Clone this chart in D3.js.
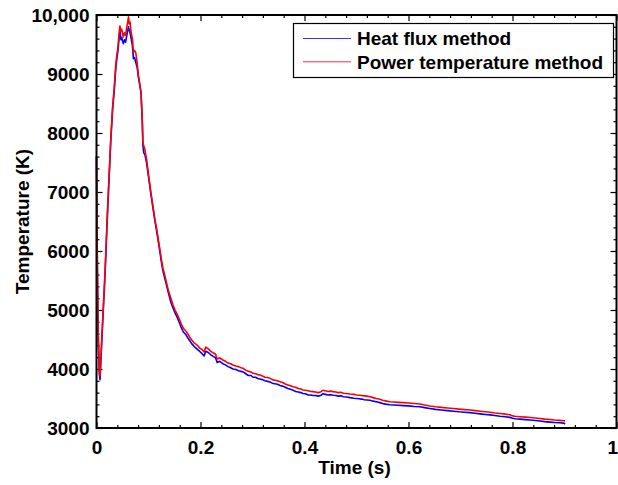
<!DOCTYPE html>
<html><head><meta charset="utf-8">
<script src="https://cdn.jsdelivr.net/npm/d3@7"></script>
<style>
html,body{margin:0;padding:0;background:#fff;}
svg{display:block;font-family:"Liberation Sans",Arial,Helvetica,sans-serif;}
</style></head>
<body><svg id="c" width="618" height="485"></svg>
<script>
const time = [0,0.001,0.003,0.0055,0.0068,0.009,0.0125,0.0163,0.021,0.0273,0.031,0.034,0.037,0.039,0.041,0.043,0.045,0.047,0.0485,0.0515,0.054,0.056,0.058,0.060,0.0615,0.063,0.0645,0.0665,0.069,0.071,0.073,0.0755,0.078,0.0805,0.083,0.0856,0.088,0.0893,0.091,0.093,0.0965,0.100,0.104,0.108,0.1125,0.116,0.119,0.122,0.125,0.128,0.132,0.138,0.143,0.147,0.151,0.155,0.160,0.163,0.167,0.172,0.176,0.180,0.183,0.188,0.193,0.199,0.203,0.207,0.210,0.215,0.220,0.225,0.229,0.232,0.237,0.243,0.248,0.253,0.258,0.2625,0.268,0.273,0.278,0.282,0.287,0.292,0.297,0.301,0.306,0.310,0.3144,0.319,0.324,0.329,0.3337,0.338,0.343,0.348,0.353,0.358,0.363,0.368,0.373,0.378,0.383,0.388,0.393,0.397,0.402,0.407,0.412,0.416,0.421,0.426,0.431,0.435,0.440,0.445,0.450,0.455,0.460,0.465,0.470,0.475,0.481,0.4875,0.495,0.500,0.505,0.510,0.515,0.520,0.526,0.532,0.538,0.545,0.550,0.556,0.564,0.572,0.580,0.590,0.600,0.611,0.622,0.631,0.641,0.652,0.663,0.675,0.686,0.697,0.708,0.718,0.728,0.738,0.748,0.757,0.766,0.776,0.786,0.795,0.800,0.805,0.815,0.825,0.834,0.844,0.853,0.862,0.872,0.881,0.890,0.899,0.901];
const powerTemp = [7600,6300,4700,3950,3880,4300,4950,5620,6650,7880,8450,8760,9150,9320,9430,9650,9814,9720,9760,9627,9700,9656,9780,9880,9970,9850,9880,9712,9600,9373,9400,9360,9200,8980,8850,8695,8220,7830,7780,7720,7540,7300,7034,6800,6525,6360,6186,6020,5847,5700,5560,5340,5200,5090,5000,4930,4830,4760,4690,4640,4590,4530,4491,4440,4410,4350,4330,4290,4370,4340,4300,4270,4250,4170,4190,4153,4130,4100,4090,4068,4050,4040,4020,4012,3980,3960,3950,3927,3920,3905,3898,3880,3860,3855,3842,3820,3810,3800,3785,3770,3745,3730,3715,3700,3690,3670,3660,3644,3640,3630,3620,3616,3610,3600,3610,3640,3630,3620,3625,3616,3610,3600,3605,3590,3585,3576,3570,3560,3555,3550,3545,3540,3531,3515,3500,3486,3470,3460,3446,3440,3435,3430,3425,3415,3407,3390,3373,3360,3350,3340,3330,3320,3312,3305,3295,3285,3275,3266,3255,3245,3235,3225,3205,3200,3192,3185,3178,3170,3160,3150,3145,3135,3130,3124,3124];
const heatFlux = [7600,6300,4650,3900,3820,4250,4900,5580,6600,7840,8400,8700,9080,9250,9380,9560,9740,9580,9620,9514,9580,9540,9640,9740,9800,9740,9700,9610,9480,9260,9280,9200,9120,8950,8820,8680,8200,7780,7660,7640,7480,7260,7000,6760,6500,6320,6150,5980,5800,5650,5510,5300,5130,5040,4950,4880,4770,4700,4627,4580,4520,4470,4430,4380,4340,4293,4260,4220,4300,4280,4240,4210,4190,4110,4130,4090,4070,4040,4020,4000,3990,3970,3960,3950,3920,3890,3890,3860,3860,3840,3830,3820,3800,3790,3780,3760,3750,3740,3720,3710,3690,3670,3655,3640,3620,3610,3600,3585,3580,3560,3560,3550,3550,3540,3550,3580,3570,3560,3565,3555,3550,3540,3545,3530,3525,3515,3505,3500,3495,3490,3480,3475,3470,3455,3445,3430,3415,3405,3395,3390,3385,3380,3375,3365,3360,3345,3330,3315,3305,3295,3285,3275,3268,3260,3250,3240,3230,3222,3212,3200,3190,3180,3165,3158,3150,3142,3135,3126,3118,3108,3100,3092,3088,3082,3065];
const seriesNames = ["Heat flux method","Power temperature method"];
const xTicks = [0,0.2,0.4,0.6,0.8,1];
const xTickLabels = ["0","0.2","0.4","0.6","0.8","1"];
const yTicks = [3000,4000,5000,6000,7000,8000,9000,10000];
const yTickLabels = ["3000","4000","5000","6000","7000","8000","9000","10,000"];
const xLabel = "Time (s)";
const yLabel = "Temperature (K)";

const svg = d3.select("#c");
const L=96.5, R=616.5, T=15, B=428;
const x = d3.scaleLinear().domain([0,1]).range([L,R]);
const y = d3.scaleLinear().domain([3000,10000]).range([B,T]);
const xMinor = d3.range(0,1.0001,0.04).filter(v=>Math.abs(v/0.2-Math.round(v/0.2))>1e-6);
const yMinor = d3.range(3000,10001,200).filter(v=>v%1000!==0);

function styleAxis(g){
  g.select(".domain").remove();
  g.selectAll("line").attr("stroke","#000").attr("stroke-width",1.2);
  g.selectAll("text").attr("font-size",19).attr("font-weight","bold").attr("fill","#000");
}
// bottom
svg.append("g").attr("transform",`translate(0,${B})`)
  .call(d3.axisBottom(x).tickValues(xTicks).tickSize(-6).tickPadding(8).tickFormat((d,i)=>xTickLabels[i]))
  .call(styleAxis).call(g=>g.selectAll("text").attr("dy","0.95em")
    .filter(d=>d===1).attr("text-anchor","end").attr("dx","1"));
svg.append("g").attr("transform",`translate(0,${B})`)
  .call(d3.axisBottom(x).tickValues(xMinor).tickSize(-3).tickFormat(""))
  .call(styleAxis);
// top
svg.append("g").attr("transform",`translate(0,${T})`)
  .call(d3.axisTop(x).tickValues(xTicks).tickSize(-6).tickFormat(""))
  .call(styleAxis);
svg.append("g").attr("transform",`translate(0,${T})`)
  .call(d3.axisTop(x).tickValues(xMinor).tickSize(-3).tickFormat(""))
  .call(styleAxis);
// left
svg.append("g").attr("transform",`translate(${L},0)`)
  .call(d3.axisLeft(y).tickValues(yTicks).tickSize(-6).tickPadding(7).tickFormat((d,i)=>yTickLabels[i]))
  .call(styleAxis);
svg.append("g").attr("transform",`translate(${L},0)`)
  .call(d3.axisLeft(y).tickValues(yMinor).tickSize(-3).tickFormat(""))
  .call(styleAxis);
// right
svg.append("g").attr("transform",`translate(${R},0)`)
  .call(d3.axisRight(y).tickValues(yTicks).tickSize(-6).tickFormat(""))
  .call(styleAxis);
svg.append("g").attr("transform",`translate(${R},0)`)
  .call(d3.axisRight(y).tickValues(yMinor).tickSize(-3).tickFormat(""))
  .call(styleAxis);

// data lines
const line = vals => d3.line().x((d,i)=>x(time[i])).y(d=>y(d))(vals);
svg.append("path").attr("d",line(heatFlux)).attr("fill","none").attr("stroke","#0000ff").attr("stroke-width",1.6).attr("stroke-linejoin","round");
svg.append("path").attr("d",line(powerTemp)).attr("fill","none").attr("stroke","#ff0000").attr("stroke-width",1.6).attr("stroke-linejoin","round");

// frame
svg.append("rect").attr("x",L).attr("y",T).attr("width",R-L).attr("height",B-T)
  .attr("fill","none").attr("stroke","#000").attr("stroke-width",2);

// axis labels
svg.append("text").attr("x",(L+R)/2-2).attr("y",474).attr("text-anchor","middle")
  .attr("font-size",19).attr("font-weight","bold").text(xLabel);
svg.append("text").attr("transform",`translate(29,${(T+B)/2}) rotate(-90)`).attr("text-anchor","middle")
  .attr("font-size",19).attr("font-weight","bold").text(yLabel);

// legend
const lg = svg.append("g");
lg.append("rect").attr("x",293.5).attr("y",23.5).attr("width",320).attr("height",54)
  .attr("fill","#fff").attr("stroke","#000").attr("stroke-width",1.2);
const lcol = ["#0000ff","#ff0000"];
seriesNames.forEach((n,i)=>{
  const yy = 38.5 + i*23.3;
  lg.append("line").attr("x1",303).attr("x2",351).attr("y1",yy).attr("y2",yy)
    .attr("stroke",lcol[i]).attr("stroke-width",1).attr("opacity",0.8);
  lg.append("text").attr("x",357).attr("y",yy+6.8).attr("font-size",19).attr("font-weight","bold").text(n);
});
</script></body></html>
